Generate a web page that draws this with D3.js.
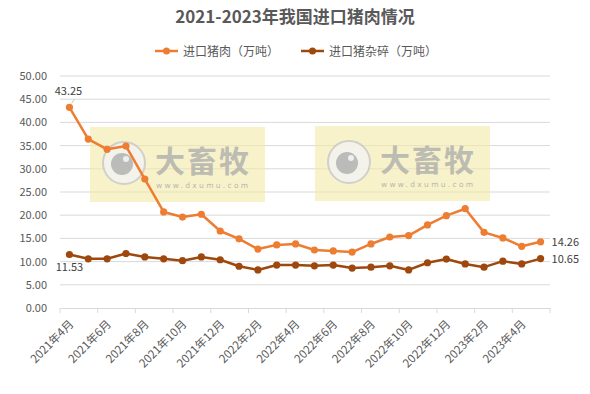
<!DOCTYPE html>
<html>
<head>
<meta charset="utf-8">
<script src="https://cdn.jsdelivr.net/npm/d3@7"></script>
<style>
  body { margin: 0; background: #fff; }
  text { font-family: "Noto Sans CJK SC", "Noto Sans", sans-serif; }
</style>
</head>
<body>
<div id="chart"></div>
<script>
// months Apr 2021 .. May 2023
let months = [
  "2021年4月","2021年5月","2021年6月","2021年7月","2021年8月","2021年9月",
  "2021年10月","2021年11月","2021年12月","2022年1月","2022年2月","2022年3月",
  "2022年4月","2022年5月","2022年6月","2022年7月","2022年8月","2022年9月",
  "2022年10月","2022年11月","2022年12月","2023年1月","2023年2月","2023年3月",
  "2023年4月","2023年5月"
];
let porkValues = [43.25, 36.4, 34.2, 34.9, 27.8, 20.7, 19.6, 20.2, 16.6, 14.9, 12.7, 13.6,
  13.8, 12.5, 12.3, 12.05, 13.8, 15.3, 15.6, 17.9, 19.9, 21.4, 16.3, 15.1, 13.3, 14.26];
let offalValues = [11.53, 10.6, 10.6, 11.75, 11.0, 10.6, 10.2, 11.0, 10.4, 9.0, 8.2, 9.25,
  9.25, 9.1, 9.25, 8.6, 8.8, 9.1, 8.2, 9.75, 10.55, 9.5, 8.8, 10.1, 9.5, 10.65];
let seriesNames = ["进口猪肉（万吨）", "进口猪杂碎（万吨）"];
let yTicks = [0, 5, 10, 15, 20, 25, 30, 35, 40, 45, 50];

let svgWidth = 590, svgHeight = 394;
let margin = {top: 76, right: 40, bottom: 86, left: 60};
let width = svgWidth - margin.left - margin.right;
let height = svgHeight - margin.top - margin.bottom;

let svg = d3.select("#chart").append("svg")
  .attr("width", svgWidth)
  .attr("height", svgHeight);

// title
svg.append("text")
  .attr("x", 295).attr("y", 23)
  .attr("text-anchor", "middle")
  .attr("font-size", "17px").attr("font-weight", "bold")
  .attr("fill", "#595959")
  .text("2021-2023年我国进口猪肉情况");

let colors = ["#ED7D31", "#9E480E"];

// legend
let legendX = [155, 301];
seriesNames.forEach((name, i) => {
  let g = svg.append("g").attr("transform", `translate(${legendX[i]}, 51)`);
  g.append("line").attr("x1", 0).attr("x2", 23).attr("y1", 0).attr("y2", 0)
    .attr("stroke", colors[i]).attr("stroke-width", 2.5);
  g.append("circle").attr("cx", 11.5).attr("cy", 0).attr("r", 3.5).attr("fill", colors[i]);
  g.append("text").attr("x", 28).attr("y", 4.5)
    .attr("font-size", "12px").attr("fill", "#595959").text(name);
});

let chartGroup = svg.append("g")
  .attr("transform", `translate(${margin.left}, ${margin.top})`);

let xScale = d3.scaleBand().domain(months).range([0, width]);
let yScale = d3.scaleLinear().domain([0, 50]).range([height, 0]);

// gridlines
chartGroup.selectAll(".grid").data(yTicks.slice(1)).enter()
  .append("line")
  .attr("x1", 0).attr("x2", width)
  .attr("y1", d => yScale(d)).attr("y2", d => yScale(d))
  .attr("stroke", "#d9d9d9").attr("stroke-width", 1);

// watermarks
[[30, 51], [255, 50]].forEach(p => {
  let w = chartGroup.append("g").attr("transform", `translate(${p[0]}, ${p[1]})`);
  w.append("rect").attr("width", 175).attr("height", 75)
    .attr("fill", "#f3eaa6").attr("opacity", 0.6);
  w.append("circle").attr("cx", 34).attr("cy", 36).attr("r", 21)
    .attr("fill", "#f4f4f4").attr("stroke", "#c8c8c8").attr("stroke-width", 2).attr("opacity", 0.8);
  w.append("circle").attr("cx", 32).attr("cy", 37).attr("r", 11)
    .attr("fill", "#b5b5b5").attr("opacity", 0.9);
  w.append("circle").attr("cx", 36).attr("cy", 32).attr("r", 3)
    .attr("fill", "#eee");
  w.append("text").attr("x", 65).attr("y", 45)
    .attr("font-size", "30px").attr("font-weight", "bold").attr("letter-spacing", "2px")
    .attr("fill", "#aaa").attr("opacity", 0.75).text("大畜牧");
  w.append("text").attr("x", 66).attr("y", 61)
    .attr("font-size", "7.5px").attr("letter-spacing", "2.3px")
    .style("font-family", "'DejaVu Sans', sans-serif")
    .attr("fill", "#aaa").attr("opacity", 0.8).text("www.dxumu.com");
});

// x axis
let xAxis = d3.axisBottom(xScale).tickSize(0).tickFormat("");
let xg = chartGroup.append("g").attr("transform", `translate(0, ${height})`).call(xAxis);
xg.select(".domain").attr("stroke", "#d9d9d9");
let step = xScale.step();
chartGroup.selectAll(".xtick").data(d3.range(0, months.length + 1, 2)).enter()
  .append("line")
  .attr("x1", d => d * step).attr("x2", d => d * step)
  .attr("y1", height).attr("y2", height + 5)
  .attr("stroke", "#d9d9d9");
chartGroup.selectAll(".xlabel").data(months.filter((m, i) => i % 2 === 0)).enter()
  .append("text")
  .attr("transform", d => `translate(${xScale(d) + step / 2 + 2}, ${height + 14}) rotate(-45)`)
  .attr("text-anchor", "end")
  .attr("font-size", "11.5px").attr("fill", "#595959")
  .attr("dy", "0.35em")
  .text(d => d);

// y axis
let yAxis = d3.axisLeft(yScale).tickValues(yTicks).tickSize(0).tickPadding(13)
  .tickFormat(d3.format(".2f"));
let yg = chartGroup.append("g").call(yAxis);
yg.select(".domain").remove();
yg.selectAll("text").attr("font-size", "11px").attr("fill", "#595959")
  .style("font-family", "'Noto Sans CJK SC', sans-serif");

// lines
let allSeries = [porkValues, offalValues];
let line = d3.line()
  .x((d, i) => xScale(months[i]) + step / 2)
  .y(d => yScale(d));
allSeries.forEach((vals, s) => {
  chartGroup.append("path").datum(vals)
    .attr("fill", "none").attr("stroke", colors[s])
    .attr("stroke-width", 2.5).attr("stroke-linejoin", "round")
    .attr("d", line);
  chartGroup.selectAll(".pt" + s).data(vals).enter()
    .append("circle")
    .attr("cx", (d, i) => xScale(months[i]) + step / 2)
    .attr("cy", d => yScale(d))
    .attr("r", 3.6).attr("fill", colors[s]);
});

// data labels
let cx = i => xScale(months[i]) + step / 2;
let last = months.length - 1;
chartGroup.append("line")
  .attr("x1", cx(0) + 2).attr("y1", yScale(porkValues[0]) - 4)
  .attr("x2", cx(0) + 5).attr("y2", yScale(porkValues[0]) - 8)
  .attr("stroke", "#bfbfbf");
chartGroup.append("text")
  .attr("x", cx(0) - 1).attr("y", yScale(porkValues[0]) - 12)
  .attr("text-anchor", "middle").attr("font-size", "11px").attr("fill", "#404040")
  .text(porkValues[0].toFixed(2));
chartGroup.append("text")
  .attr("x", cx(0)).attr("y", yScale(offalValues[0]) + 16)
  .attr("text-anchor", "middle").attr("font-size", "11px").attr("fill", "#404040")
  .text(offalValues[0].toFixed(2));
chartGroup.append("text")
  .attr("x", cx(last) + 11).attr("y", yScale(porkValues[last]) + 4)
  .attr("font-size", "11px").attr("fill", "#404040")
  .text(porkValues[last].toFixed(2));
chartGroup.append("text")
  .attr("x", cx(last) + 11).attr("y", yScale(offalValues[last]) + 4)
  .attr("font-size", "11px").attr("fill", "#404040")
  .text(offalValues[last].toFixed(2));
</script>
</body>
</html>
